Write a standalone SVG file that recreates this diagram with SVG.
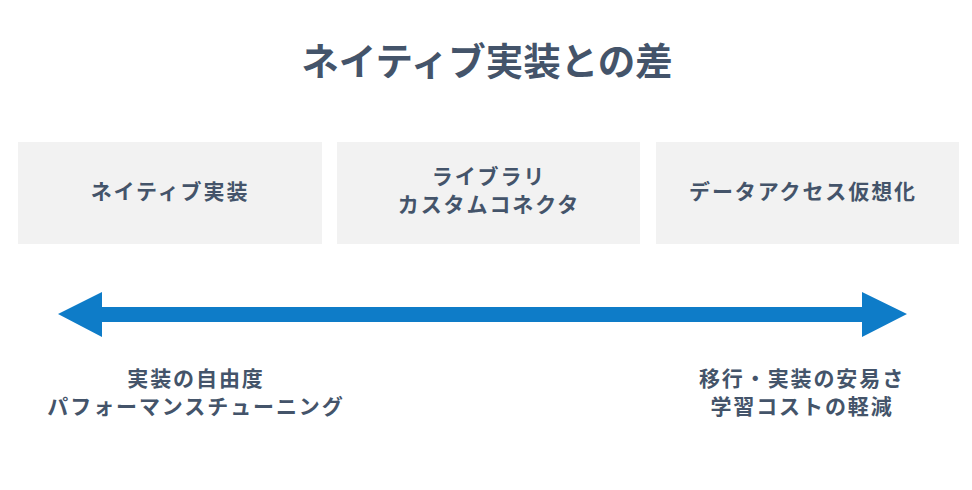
<svg xmlns="http://www.w3.org/2000/svg" width="972" height="490" viewBox="0 0 972 490">
<style>
.t{font-family:"Noto Sans CJK JP","Noto Sans",sans-serif;font-weight:bold;fill:#44546A;text-anchor:middle}
.box{fill:#F2F2F2}
.lbl{font-size:21px;letter-spacing:1.9px}
</style>
<rect width="972" height="490" fill="#FFFFFF"/>
<g id="title"><text class="t" x="487" y="75" font-size="37.5">ネイティブ実装との差</text></g>
<g id="node-native">
<rect class="box" x="18" y="142" width="304" height="102"/>
<text class="t lbl" x="170" y="199">ネイティブ実装</text>
</g>
<g id="node-library">
<rect class="box" x="337" y="142" width="303" height="102"/>
<text class="t lbl" x="489" y="184">ライブラリ</text>
<text class="t lbl" x="489" y="212">カスタムコネクタ</text>
</g>
<g id="node-virtual">
<rect class="box" x="656" y="142" width="303" height="102"/>
<text class="t lbl" x="803" y="199">データアクセス仮想化</text>
</g>
<g id="connectors">
<polygon fill="#0E7CC8" points="58,314 102,292 102,307 862,307 862,292 907,314 862,337 862,322 102,322 102,337"/>
</g>
<g id="label-left">
<text class="t lbl" x="196" y="386">実装の自由度</text>
<text class="t lbl" x="196" y="414">パフォーマンスチューニング</text>
</g>
<g id="label-right">
<text class="t lbl" x="802" y="386">移行・実装の安易さ</text>
<text class="t lbl" x="802" y="414">学習コストの軽減</text>
</g>
</svg>
